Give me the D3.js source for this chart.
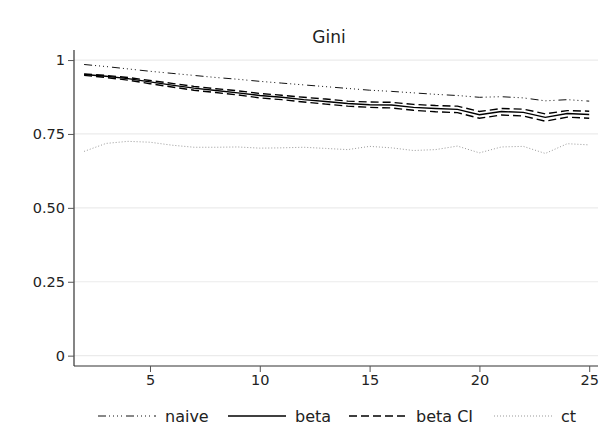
<!DOCTYPE html>
<html lang="en">
<head>
  <meta charset="utf-8">
  <title>Gini</title>
  <script src="https://d3js.org/d3.v7.min.js"></script>
  <style>
    body { margin: 0; background: #fff; }
    #chart text { font-family: "DejaVu Sans", sans-serif; fill: #222; }
  </style>
</head>
<body>
  <div id="chart"></div>
  <script>
    "use strict"

    // dados
    var xs      = [2, 3, 4, 5, 6, 7, 8, 9, 10, 11, 12, 13, 14, 15, 16, 17, 18, 19, 20, 21, 22, 23, 24, 25];
    var naive   = [.985, .978, .970, .962, .955, .948, .941, .935, .928, .922, .916, .910, .904, .898, .894, .889, .884, .880, .874, .876, .872, .862, .866, .861];
    var beta    = [.951, .945, .937, .926, .915, .905, .897, .889, .880, .874, .866, .860, .853, .849, .848, .840, .836, .833, .815, .826, .823, .806, .819, .816];
    var betaHi  = [.953, .948, .941, .931, .921, .911, .903, .896, .887, .881, .874, .868, .861, .858, .857, .850, .846, .844, .826, .836, .834, .818, .829, .827];
    var betaLo  = [.948, .941, .932, .920, .909, .898, .890, .882, .872, .866, .858, .851, .844, .840, .838, .830, .825, .822, .803, .814, .811, .793, .807, .803];
    var ct      = [.691, .718, .725, .722, .712, .705, .705, .706, .702, .703, .705, .701, .697, .708, .703, .694, .697, .709, .686, .706, .708, .684, .717, .713];
    var xTicks  = [5, 10, 15, 20, 25];
    var yTicks  = [0, 0.25, 0.5, 0.75, 1];
    var yLabels = ["0", "0.25", "0.50", "0.75", "1"];

    var larguraSVG = 606, alturaSVG = 447;
    var margin = {top: 50, right: 8, bottom: 81, left: 74};
    var larguraVis = larguraSVG - margin.left - margin.right,
        alturaVis = alturaSVG - margin.top - margin.bottom;

    var svg = d3.select('#chart').append('svg')
        .attr('width', larguraSVG)
        .attr('height', alturaSVG);

    var g = svg.append('g')
        .attr('transform', 'translate(' + margin.left + ',' + margin.top + ')');

    var xScale = d3.scaleLinear().domain([1.54, 25.4]).range([0, larguraVis]);
    var yScale = d3.scaleLinear().domain([-0.035, 1.034]).range([alturaVis, 0]);

    // grade
    g.selectAll('.grid').data(yTicks).enter().append('line')
        .attr('x1', 0).attr('x2', larguraVis)
        .attr('y1', d => yScale(d)).attr('y2', d => yScale(d))
        .attr('stroke', '#ebebeb').attr('stroke-width', 1.2);

    // eixos
    var eixoX = g.append('g')
        .attr('transform', 'translate(0,' + alturaVis + ')')
        .call(d3.axisBottom(xScale).tickValues(xTicks).tickSize(6).tickPadding(3));
    var eixoY = g.append('g')
        .call(d3.axisLeft(yScale).tickValues(yTicks).tickFormat((d, i) => yLabels[i]).tickSize(6).tickPadding(3));

    [eixoX, eixoY].forEach(function(e) {
      e.select('.domain').attr('stroke', '#333').attr('stroke-width', 1.2);
      e.selectAll('.tick line').attr('stroke', '#555');
      e.selectAll('.tick text').style('font-size', '14.5px').attr('fill', '#222');
    });
    eixoX.select('.domain').attr('d', 'M0,0H' + larguraVis);
    eixoY.select('.domain').attr('d', 'M0,0V' + alturaVis);

    var estilos = [
      {nome: 'naive',   vals: naive,  cor: '#111', larg: 1,   dash: '8 3 1 3 1 3 1 3 1 4'},
      {nome: 'beta',    vals: beta,   cor: '#000', larg: 1.4, dash: null},
      {nome: 'beta CI', vals: betaHi, cor: '#000', larg: 1.4, dash: '8 4'},
      {nome: null,      vals: betaLo, cor: '#000', larg: 1.4, dash: '8 4'},
      {nome: 'ct',      vals: ct,     cor: '#999', larg: 1,   dash: '1 2'}
    ];

    var linha = d3.line()
        .x((d, i) => xScale(xs[i]))
        .y(d => yScale(d));

    estilos.forEach(function(s) {
      g.append('path')
        .datum(s.vals)
        .attr('d', linha)
        .attr('fill', 'none')
        .attr('stroke', s.cor)
        .attr('stroke-width', s.larg)
        .attr('stroke-dasharray', s.dash);
    });

    // titulo
    svg.append('text')
      .attr('x', 329).attr('y', 43)
      .attr('text-anchor', 'middle')
      .style('font-size', '17px')
      .text('Gini');

    // legenda
    var legenda = estilos.filter(s => s.nome);
    var posLeg = [98, 228, 349, 494];
    legenda.forEach(function(s, i) {
      var lg = svg.append('g').attr('transform', 'translate(' + posLeg[i] + ',416)');
      lg.append('line')
        .attr('x1', 0).attr('x2', 58).attr('y1', 0).attr('y2', 0)
        .attr('stroke', s.cor)
        .attr('stroke-width', s.larg)
        .attr('stroke-dasharray', s.dash);
      lg.append('text')
        .attr('x', 67).attr('y', 6)
        .style('font-size', '16px')
        .text(s.nome);
    });
  </script>
</body>
</html>
